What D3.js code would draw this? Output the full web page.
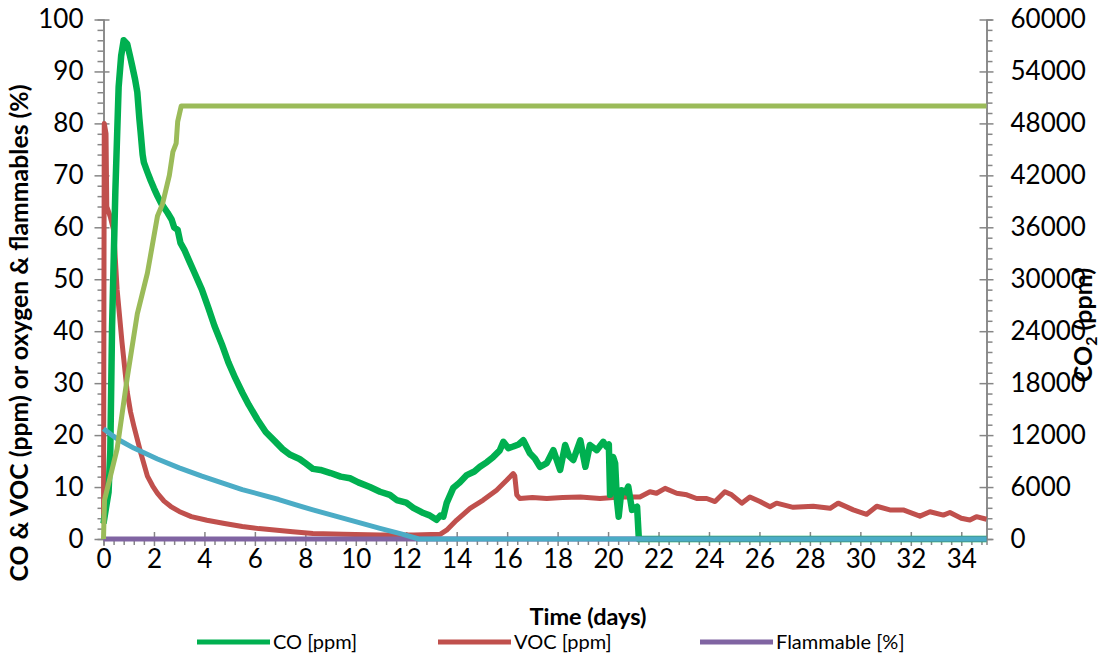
<!DOCTYPE html>
<html><head><meta charset="utf-8">
<script src="https://cdn.jsdelivr.net/npm/d3@7"></script>
<style>body{margin:0;background:#fff}svg{display:block}text{font-family:Lato,'Noto Sans',sans-serif;fill:#000}</style>
</head><body><svg id="c" width="1105" height="660"></svg>
<script>
// ---- data ----
const xTicks = d3.range(0, 35, 2);
const yLeftTicks = d3.range(0, 101, 10);
const yRightTicks = d3.range(0, 60001, 6000);
const legendNames = ["CO [ppm]", "VOC [ppm]", "Flammable [%]"];

// time (days), value
const coSeries = [[0,3],[0.1,6],[0.2,9],[0.27,17],[0.34,41],[0.47,67],[0.6,87],[0.7,93],[0.8,96],[0.94,95.3],[1.05,93],[1.14,91],[1.25,88.5],[1.34,86],[1.42,81],[1.47,78.4],[1.55,74],[1.6,72.5],[1.75,70.5],[1.87,69],[2.0,67.5],[2.14,66],[2.3,64.5],[2.54,62.8],[2.7,61.5],[2.8,60],[2.94,59.5],[3.05,57],[3.21,55.6],[3.4,53.5],[3.61,51.2],[3.9,48],[4.15,44.6],[4.4,41],[4.69,37.5],[4.95,34],[5.22,31],[5.5,28.2],[5.76,25.8],[6.1,23],[6.43,20.6],[6.8,18.8],[7.1,17.3],[7.4,16.2],[7.77,15.4],[8.0,14.6],[8.3,13.5],[8.6,13.3],[9.0,12.7],[9.4,12.0],[9.77,11.7],[10.1,10.9],[10.56,10],[10.96,9.1],[11.35,8.5],[11.62,7.5],[12.0,7.0],[12.28,6.0],[12.68,5.0],[12.9,4.6],[13.2,3.7],[13.35,4.5],[13.47,4.3],[13.6,6.9],[13.86,9.8],[14.1,10.8],[14.4,12.3],[14.7,13.0],[14.92,13.9],[15.2,14.8],[15.45,15.8],[15.7,17.0],[15.85,18.7],[16.05,17.5],[16.24,17.8],[16.45,18.2],[16.64,19.0],[16.9,16.5],[17.1,15.5],[17.3,13.9],[17.57,14.6],[17.83,17.1],[18.1,13.3],[18.3,18.1],[18.45,16.0],[18.62,15.2],[18.9,19.0],[19.1,13.9],[19.28,18.1],[19.55,17.1],[19.81,18.7],[19.94,17.8],[20.03,18.2],[20.08,8.5],[20.13,12],[20.2,15.8],[20.28,14.6],[20.35,7.5],[20.42,4.3],[20.53,9.4],[20.7,9.0],[20.8,10.1],[20.95,5.6],[21.15,6.2],[21.22,0],[35,0]];
const vocSeries = [[0,3],[0.03,80],[0.1,78],[0.13,64],[0.27,62],[0.4,59.5],[0.54,48],[0.73,38],[0.94,28.3],[1.07,24.5],[1.2,21.8],[1.47,16.7],[1.74,12.1],[1.95,10.2],[2.14,8.8],[2.4,7.3],[2.67,6.25],[3.0,5.3],[3.48,4.3],[4.1,3.6],[4.8,3.0],[5.5,2.4],[6.16,2.0],[7.5,1.4],[8.3,1.06],[9.5,0.9],[10.96,0.77],[12.3,0.77],[13.34,0.9],[13.6,1.7],[14.0,3.65],[14.53,5.9],[15.05,7.5],[15.58,9.4],[15.98,11.3],[16.24,12.6],[16.3,12.2],[16.38,8.5],[16.5,7.8],[17.0,8.0],[17.57,7.8],[18.2,8.0],[18.9,8.1],[19.68,7.8],[20.47,8.1],[21.26,8.1],[21.66,9.1],[21.92,8.8],[22.26,9.75],[22.72,8.8],[23.12,8.5],[23.51,7.8],[23.91,7.8],[24.24,7.2],[24.63,9.1],[24.9,8.5],[25.3,6.9],[25.62,8.1],[26.02,7.2],[26.42,6.2],[26.68,6.9],[27.34,6.1],[28.13,6.3],[28.8,5.9],[29.12,6.9],[29.72,5.6],[30.25,4.75],[30.65,6.3],[31.17,5.6],[31.7,5.6],[32.36,4.4],[32.76,5.25],[33.29,4.6],[33.55,5.1],[34.0,4.0],[34.34,3.65],[34.6,4.3],[35,3.8]];
const flammableSeries = [[0,0],[35,0]];
const oxygenSeries = [[0,21.2],[0.3,20.1],[0.67,18.9],[1.2,17.5],[2.14,15.4],[3,13.7],[3.9,12.1],[4.7,10.8],[5.5,9.5],[6.2,8.6],[6.95,7.6],[7.6,6.6],[8.3,5.6],[9.2,4.4],[10.1,3.2],[10.96,2.06],[11.8,1.0],[12.5,0],[35,0]];
const co2Series = [[0,0],[0.04,4500],[0.54,10400],[0.94,18600],[1.34,26000],[1.74,30700],[2.14,37300],[2.34,38700],[2.61,42000],[2.75,44700],[2.88,45700],[2.94,48200],[3.08,50000],[35,50000]];

// ---- layout ----
const W = 1105, H = 660;
const m = {l: 103.5, r: 118.5, t: 19.5, b: 121};
const svg = d3.select("#c");
const x = d3.scaleLinear().domain([0, 35]).range([m.l, W - m.r]);
const yL = d3.scaleLinear().domain([0, 100]).range([H - m.b, m.t]);
const yR = d3.scaleLinear().domain([0, 60000]).range([H - m.b, m.t]);
const axisCol = "#868686";
const tickFont = 26;

function styleAxis(g) {
  g.select(".domain").attr("stroke", axisCol).attr("stroke-width", 1.5);
  g.selectAll(".tick line").attr("stroke", axisCol).attr("stroke-width", 1.5);
  g.selectAll("text").style("font-size", tickFont + "px").attr("fill", "#000");
}

// minor ticks
svg.append("g").attr("transform", `translate(${m.l},0)`)
  .call(d3.axisLeft(yL).tickValues(d3.range(0, 101, 2).filter(v => v % 10)).tickSize(6).tickFormat(""))
  .call(styleAxis);
svg.append("g").attr("transform", `translate(${W - m.r},0)`)
  .call(d3.axisRight(yR).tickValues(d3.range(0, 60001, 1200).filter(v => v % 6000)).tickSize(6).tickFormat(""))
  .call(styleAxis);
svg.append("g").attr("transform", `translate(0,${H - m.b})`)
  .call(d3.axisBottom(x).tickValues(d3.range(0, 35, 0.4).filter(v => Math.abs(v / 2 - Math.round(v / 2)) > 0.01)).tickSize(6).tickFormat(""))
  .call(styleAxis);

// major axes
const gL = svg.append("g").attr("transform", `translate(${m.l},0)`)
  .call(d3.axisLeft(yL).tickValues(yLeftTicks).tickSizeInner(9).tickSizeOuter(0).tickPadding(11))
  .call(styleAxis);
gL.selectAll(".tick line").attr("x1", 6);
const gR = svg.append("g").attr("transform", `translate(${W - m.r},0)`)
  .call(d3.axisRight(yR).tickValues(yRightTicks).tickFormat(d3.format("d")).tickSizeInner(7).tickSizeOuter(0).tickPadding(17))
  .call(styleAxis);
gR.selectAll(".tick line").attr("x1", -7);
const gB = svg.append("g").attr("transform", `translate(0,${H - m.b})`)
  .call(d3.axisBottom(x).tickValues(xTicks).tickSizeInner(7).tickSizeOuter(0).tickPadding(4))
  .call(styleAxis);
gB.selectAll(".tick line").attr("y1", -7);
gB.select(".domain").attr("d", `M${m.l},0H${W - m.r}`);

// lines
const lineL = d3.line().x(d => x(d[0])).y(d => yL(d[1])).curve(d3.curveLinear);
const lineR = d3.line().x(d => x(d[0])).y(d => yR(d[1])).curve(d3.curveLinear);
const series = [
  {data: vocSeries, col: "#C0504D", w: 5, f: lineL},
  {data: coSeries, col: "#00B050", w: 6.5, f: lineL},
  {data: flammableSeries, col: "#8064A2", w: 5, f: lineL},
  {data: oxygenSeries, col: "#4BACC6", w: 5, f: lineL},
  {data: co2Series, col: "#9BBB59", w: 5, f: lineR}
];
series.forEach(s => {
  svg.append("path").datum(s.data).attr("d", s.f).attr("fill", "none")
    .attr("stroke", s.col).attr("stroke-width", s.w)
    .attr("stroke-linejoin", "round").attr("stroke-linecap", "butt");
});

// titles
svg.append("text").attr("x", 588).attr("y", 625).attr("text-anchor", "middle")
  .style("font-size", "23.5px").style("font-weight", "bold").text("Time (days)");
svg.append("text").attr("transform", "translate(28,333) rotate(-90)").attr("text-anchor", "middle")
  .style("font-size", "24.8px").style("font-weight", "bold").text("CO & VOC (ppm) or oxygen & flammables (%)");
const rt = svg.append("text").attr("transform", "translate(1092,325) rotate(-90)").attr("text-anchor", "middle")
  .style("font-size", "25px").style("font-weight", "bold");
rt.append("tspan").text("CO");
rt.append("tspan").attr("dy", 5).style("font-size", "16px").text("2");
rt.append("tspan").attr("dy", -5).text(" (ppm)");

// legend
const legCols = ["#00B050", "#C0504D", "#8064A2"];
const legX = [197, 438, 700];
legendNames.forEach((n, i) => {
  svg.append("line").attr("x1", legX[i]).attr("x2", legX[i] + 73).attr("y1", 642).attr("y2", 642)
    .attr("stroke", legCols[i]).attr("stroke-width", 5);
  svg.append("text").attr("x", legX[i] + 76).attr("y", 649).style("font-size", "20px").text(n);
});
</script></body></html>
